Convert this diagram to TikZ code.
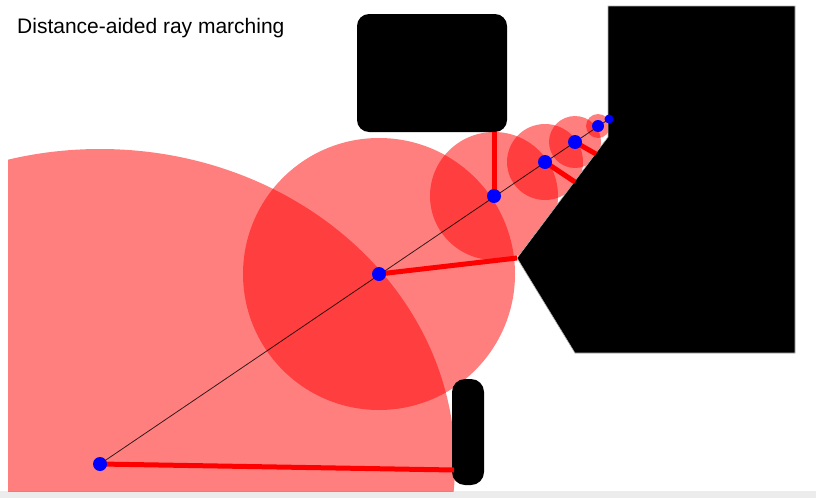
\documentclass[tikz,border=0pt]{standalone}
\usepackage{fontspec}
\setmainfont{Liberation Sans}
\usepackage{tikz}
\usetikzlibrary{positioning}
\definecolor{stripGrey}{RGB}{236,236,236}
\tikzset{
  reach/.style={fill=red, fill opacity=0.5},
  wall/.style={fill=black},
  dist/.style={draw=red, line width=5pt},
  ray/.style={draw=black, line width=0.8pt, draw opacity=0.8},
  marchpt/.style={circle, fill=blue, inner sep=0pt, minimum size=14pt},
  hitpt/.style={inner sep=0pt, minimum size=0pt},
}

\begin{document}
\begin{tikzpicture}[x=1pt, y=-1pt]
\useasboundingbox (0,0) rectangle (816,498);
\fill[stripGrey] (0,491) rectangle (816,498);

% march points and the closest surface points
\coordinate (c0) at (100,464);
\coordinate (c1) at (379,274);
\coordinate (c2) at (494,196);
\coordinate (c3) at (545,162);
\coordinate (c4) at (575,142);
\coordinate (c5) at (598,126);
\coordinate (c6) at (609,119);
\coordinate (h0) at (454,470);
\coordinate (h1) at (517,258);
\coordinate (h2) at (494,132);
\coordinate (h3) at (575,182);
\coordinate (h4) at (596,154);

% safe distance circles
\begin{scope}
  \clip (8,0) rectangle (816,491);
  \fill[reach] (c0) ellipse [x radius=355, y radius=315];
  \fill[reach] (c1) circle (136);
  \fill[reach] (c2) circle (64);
  \fill[reach] (c3) circle (38);
  \fill[reach] (c4) circle (26);
  \fill[reach] (c5) circle (12);
\end{scope}

% scene
\fill[wall, rounded corners=12pt] (357,14) rectangle (507,132);
\fill[wall, rounded corners=13pt] (452,379) rectangle (484,485);
\filldraw[wall, draw=gray!60, line width=0.6pt]
  (608,6) -- (795,6) -- (795,353) -- (575,353) -- (517,258) -- (608,137) -- cycle;

% distances
\draw[dist] (c0) -- (h0);
\draw[dist] (c1) -- (h1);
\draw[dist] (c2) -- (h2);
\draw[dist] (c3) -- (h3);
\draw[dist] (c4) -- (h4);
\draw[ray] (c0) -- (c6);

\node[marchpt] (p0) at (c0) {};
\node[marchpt] (p1) at (c1) {};
\node[marchpt] (p2) at (c2) {};
\node[marchpt] (p3) at (c3) {};
\node[marchpt] (p4) at (c4) {};
\node[marchpt, minimum size=12pt] (p5) at (c5) {};
\node[marchpt, minimum size=9pt] (p6) at (c6) {};

\node[anchor=base west, font=\fontsize{21}{24}\selectfont, inner sep=0pt] (title) at (17,33) {Distance-aided ray marching};
\end{tikzpicture}
\end{document}
